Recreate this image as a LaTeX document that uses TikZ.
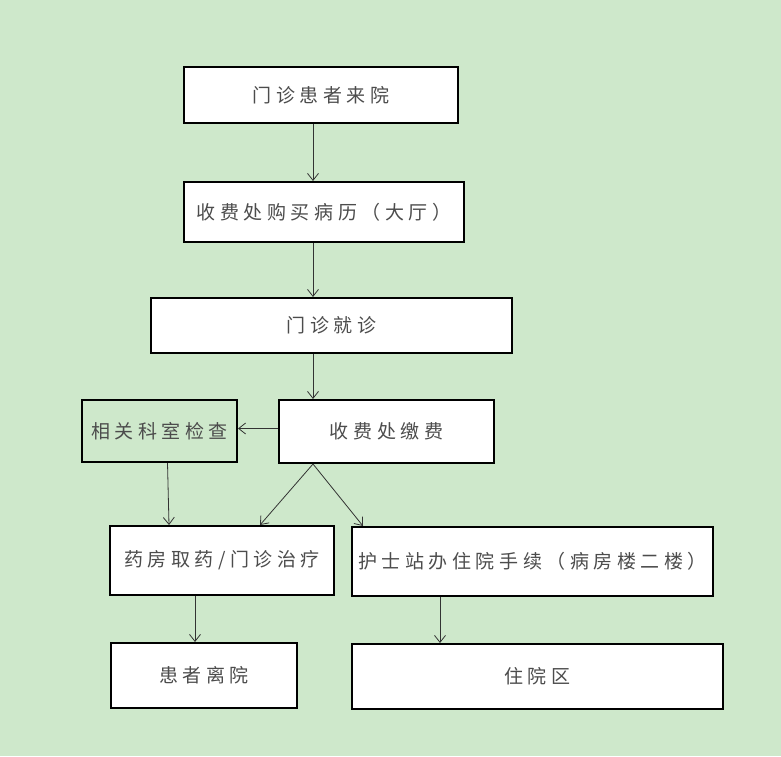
\documentclass[tikz,border=0pt]{standalone}
\usepackage{fontspec}
\newfontfamily\cjk[LetterSpace=24]{Noto Sans CJK SC}
\usetikzlibrary{arrows.meta,calc}
\definecolor{eyegreen}{RGB}{206,232,203}
\tikzset{
  flowbox/.style={draw, line width=2pt, fill=white, inner sep=0pt,
    font=\cjk\fontsize{19}{22}\selectfont, text=black!70},
  flowarrow/.style={-{Straight Barb[length=7pt,width=11pt]}, line width=0.8pt, draw=black!80}
}
\begin{document}
\begin{tikzpicture}[x=1pt,y=-1pt]
    % Background
    \fill[eyegreen] (0,0) rectangle (781,756);
    \useasboundingbox (0,0) rectangle (781,756);

    % Boxes
    \node[flowbox, minimum width=274, minimum height=56] (visit) at (321,95) {门诊患者来院};
    \node[flowbox, minimum width=280, minimum height=60] (record) at (324,212) {收费处购买病历（大厅）};
    \node[flowbox, minimum width=361, minimum height=55] (consult) at (331.5,325.5) {门诊就诊};
    \node[flowbox, fill=eyegreen, minimum width=155, minimum height=62] (exam) at (159.5,431) {相关科室检查};
    \node[flowbox, minimum width=215, minimum height=63] (pay) at (386.5,431.5) {收费处缴费};
    \node[flowbox, minimum width=224, minimum height=69] (treat) at (222,560.5) {药房取药/门诊治疗};
    \node[flowbox, minimum width=361, minimum height=69] (ward) at (532.5,561.5) {护士站办住院手续（病房楼二楼）};
    \node[flowbox, minimum width=186, minimum height=65] (leave) at (204,675.5) {患者离院};
    \node[flowbox, minimum width=371, minimum height=65] (inpatient) at (537.5,676.5) {住院区};

    % Arrows
    \coordinate (spine) at (313,0);
    \draw[flowarrow] (visit.south -| spine) -- (record.north -| spine);
    \draw[flowarrow] (record.south -| spine) -- (consult.north -| spine);
    \draw[flowarrow] (consult.south -| spine) -- (pay.north -| spine);
    \draw[flowarrow] ($(pay.west)+(0,-3)$) -- ($(pay.west -| exam.east)+(0,-3)$);
    \draw[flowarrow] ($(exam.south)+(8,0)$) -- ($(treat.north)+(-53,0)$);
    \draw[flowarrow] (pay.south -| spine) -- ($(treat.north)+(38,0)$);
    \draw[flowarrow] (pay.south -| spine) -- ($(ward.north west)+(12,0)$);
    \draw[flowarrow] ($(treat.south)+(-27,0)$) -- ($(leave.north)+(-9,0)$);
    \draw[flowarrow] ($(ward.south)+(-92.5,0)$) -- ($(inpatient.north)+(-97.5,0)$);
\end{tikzpicture}
\end{document}
